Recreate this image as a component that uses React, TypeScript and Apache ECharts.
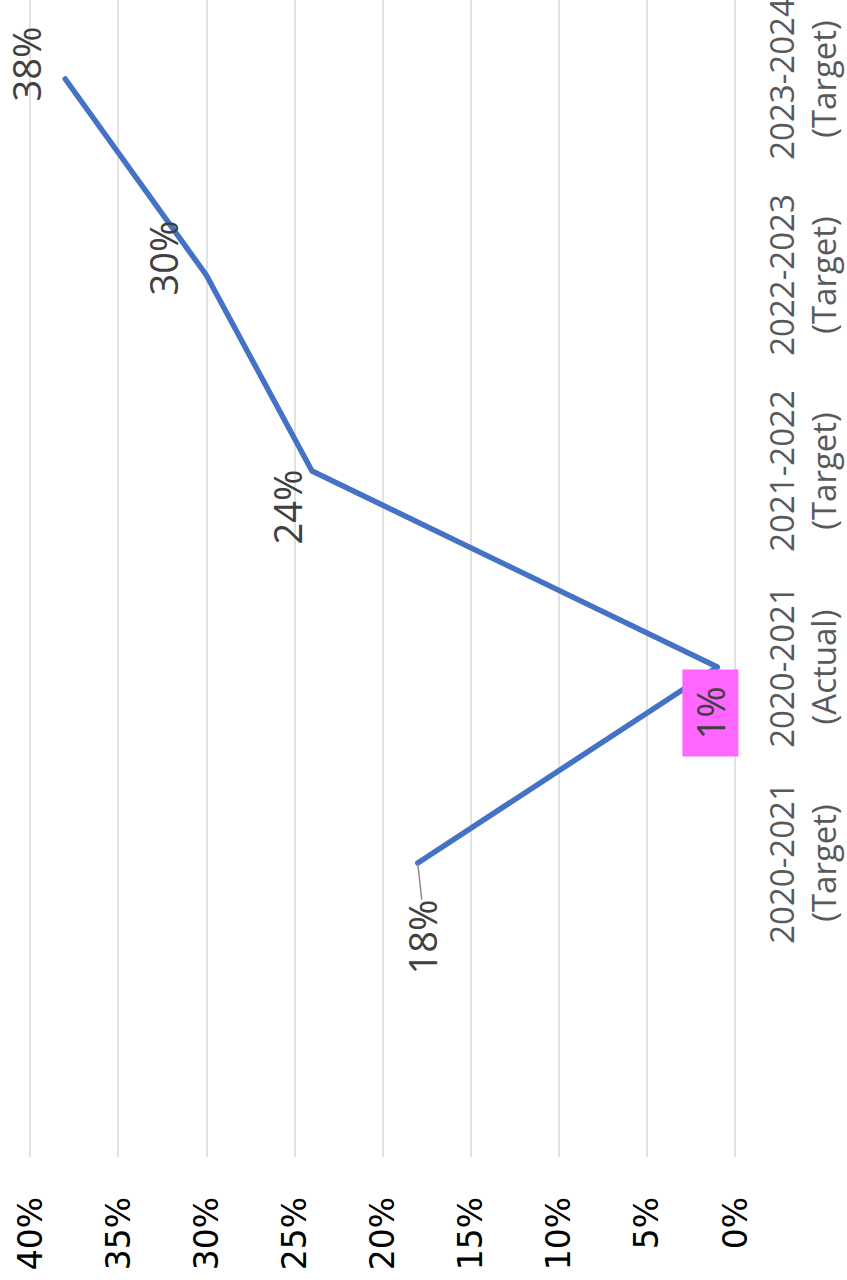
import React, { useEffect, useRef } from "react";
import * as echarts from "echarts";

const categories = [
  "",
  "2020-2021\n(Target)",
  "2020-2021\n(Actual)",
  "2021-2022\n(Target)",
  "2022-2023\n(Target)",
  "2023-2024\n(Target)",
];
const values: (number | null)[] = [null, 0.18, 0.01, 0.24, 0.3, 0.38];
const valueTicks = { min: 0, max: 0.4, interval: 0.05 };
// label displacement from point, in screen px [right, down]
const labelShift: [number, number][] = [
  [0, 0],
  [4, 74],
  [-7, 46],
  [-25, 36],
  [-43, -17],
  [-39, -15],
];

export default function App() {
  const ref = useRef<HTMLDivElement>(null);
  useEffect(() => {
    if (!ref.current) return;
    const chart = echarts.init(ref.current, null, { renderer: "svg" });
    const pct = (v: number) => Math.round(v * 100) + "%";
    chart.setOption({
      animation: false,
      grid: {
        left: 30,
        right: 112,
        top: 0,
        bottom: 123,
        containLabel: false,
        outerBoundsMode: "none",
      },
      xAxis: {
        type: "value",
        inverse: true,
        min: valueTicks.min,
        max: valueTicks.max,
        interval: valueTicks.interval,
        position: "bottom",
        axisLine: { show: false },
        axisTick: { show: false },
        splitLine: { lineStyle: { color: "#d9d9d9", width: 1.5 } },
        axisLabel: {
          rotate: 90,
          margin: 40,
          color: "#000000",
          fontFamily: "DejaVu Sans",
          fontSize: 33,
          formatter: (v: number) => pct(v),
        },
      },
      yAxis: {
        type: "category",
        data: categories,
        position: "right",
        axisLine: { show: false },
        axisTick: { show: false },
        splitLine: { show: false },
        axisLabel: {
          rotate: 90,
          margin: 25,
          color: "#595959",
          fontFamily: "Open Sans",
          fontSize: 33,
          lineHeight: 42,
          interval: 0,
        },
      },
      series: [
        {
          type: "line",
          data: values.map((v, i) =>
            i === 2
              ? {
                  value: v,
                  label: {
                    backgroundColor: "#FF66FF",
                    padding: [9, 17],
                  },
                }
              : i === 1
              ? { value: v, labelLine: { show: true } }
              : { value: v }
          ),
          connectNulls: false,
          symbol: "circle",
          symbolSize: 1,
          showSymbol: true,
          itemStyle: { color: "rgba(0,0,0,0)" },
          lineStyle: { color: "#4472C4", width: 5.5, cap: "round", join: "round" },
          label: {
            show: true,
            position: "inside",
            rotate: 90,
            color: "#404040",
            fontFamily: "Open Sans",
            fontSize: 38,
            formatter: (p: any) => (p.value == null ? "" : pct(p.value)),
          },
          labelLine: {
            show: false,
            lineStyle: { color: "#8c8c8c", width: 1.5 },
          },
          // label local frame is rotated 90deg: local dx -> screen up, local dy -> screen right
          labelLayout: (p: any) => ({
            dx: -labelShift[p.dataIndex][1],
            dy: labelShift[p.dataIndex][0],
          }),
        },
      ],
    });
    return () => chart.dispose();
  }, []);
  return (
    <div
      ref={ref}
      style={{ position: "absolute", left: 0, top: -19, width: 847, height: 1299 }}
    />
  );
}
